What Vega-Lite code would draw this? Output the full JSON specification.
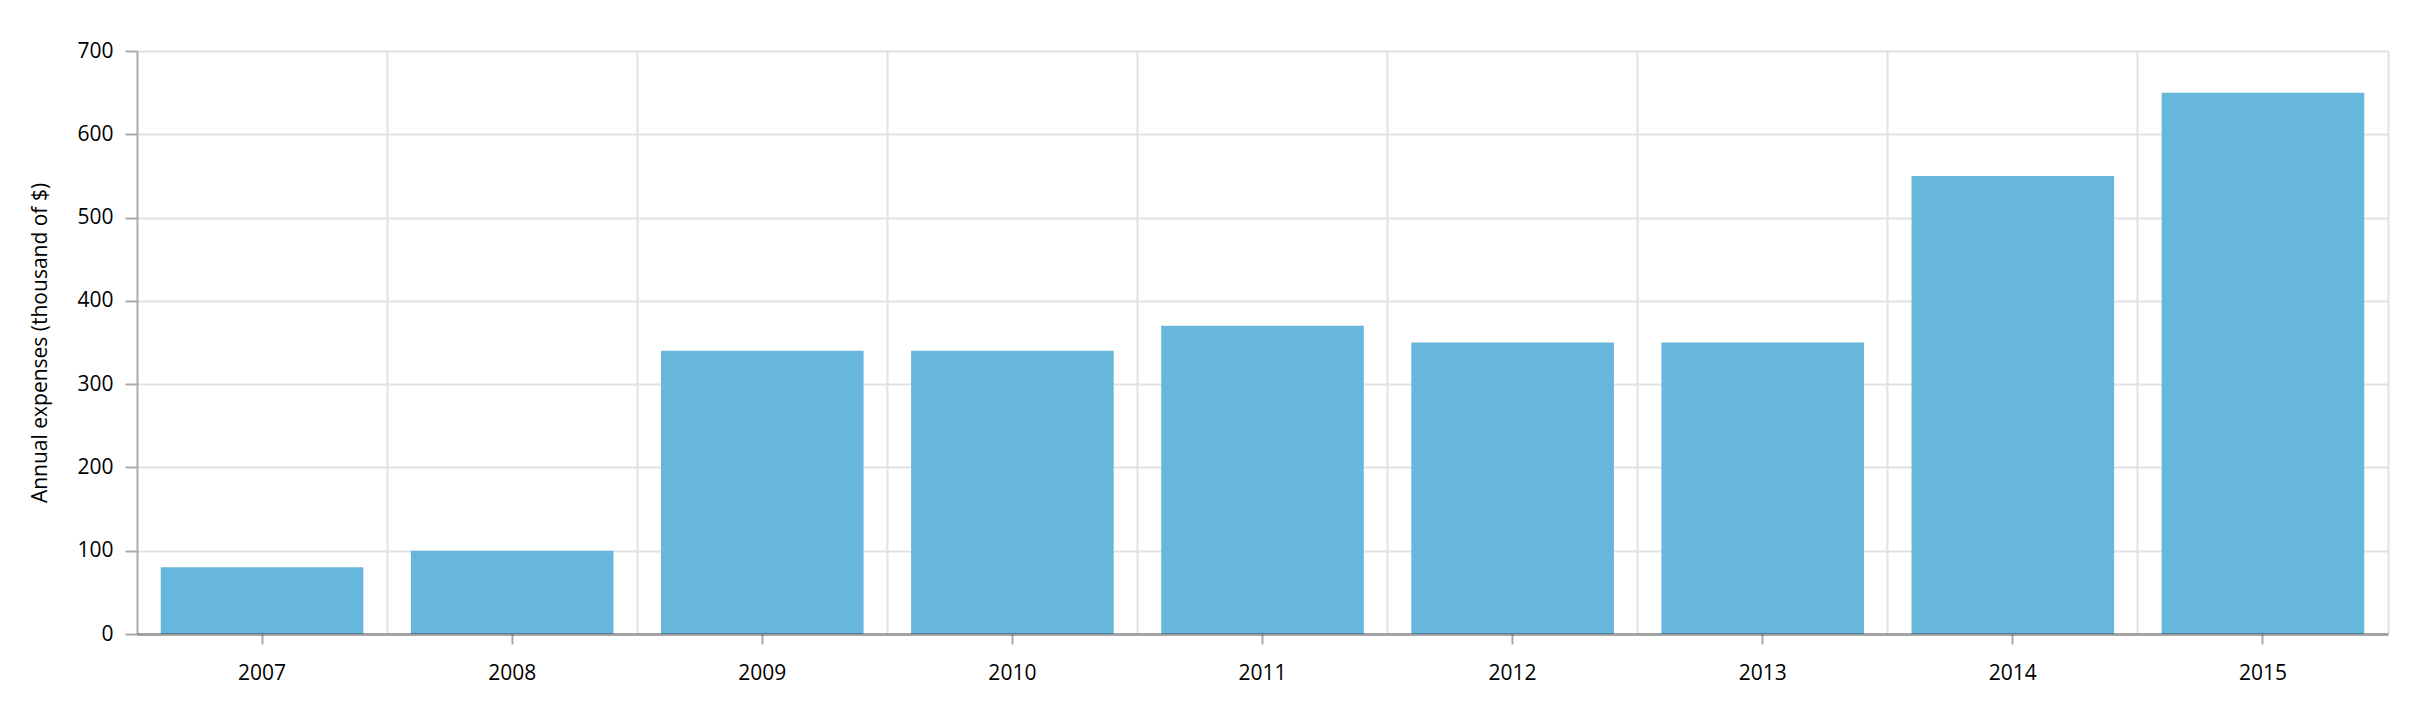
{
  "$schema": "https://vega.github.io/schema/vega-lite/v6.json",
  "width": 2251,
  "height": 583,
  "autosize": {"type": "none"},
  "padding": {"left": 137, "top": 51, "right": 32, "bottom": 67},
  "background": "white",
  "config": {
    "view": {"stroke": null},
    "font": "Open Sans",
    "axis": {"labelFont": "Open Sans", "titleFont": "Open Sans", "labelColor": "#000", "titleColor": "#000"}
  },
  "data": {
    "values": [
      {"year": "2007", "expenses": 80},
      {"year": "2008", "expenses": 100},
      {"year": "2009", "expenses": 340},
      {"year": "2010", "expenses": 340},
      {"year": "2011", "expenses": 370},
      {"year": "2012", "expenses": 350},
      {"year": "2013", "expenses": 350},
      {"year": "2014", "expenses": 550},
      {"year": "2015", "expenses": 650}
    ]
  },
  "resolve": {"axis": {"x": "independent"}},
  "layer": [
    {
      "mark": {"type": "bar", "opacity": 0},
      "encoding": {
        "x": {
          "field": "year", "type": "ordinal",
          "scale": {"paddingInner": 0.19, "paddingOuter": 0.095},
          "axis": {"orient": "top", "title": null, "labels": false, "ticks": false, "domain": false,
                   "grid": true, "gridColor": "#e2e2e2", "gridWidth": 2, "bandPosition": 1.1173, "zindex": 0}
        },
        "y": {
          "field": "expenses", "type": "quantitative",
          "scale": {"domain": [0, 700], "nice": false},
          "axis": {
            "title": "Annual expenses (thousand of $)",
            "titleFontSize": 21, "titleFontWeight": "normal", "titlePadding": 26,
            "values": [0, 100, 200, 300, 400, 500, 600, 700],
            "labelFontSize": 21, "labelPadding": 12,
            "tickSize": 12, "tickWidth": 2, "tickColor": "#aaaaaa",
            "domainColor": "#aaaaaa", "domainWidth": 2,
            "grid": true, "gridColor": "#e2e2e2", "gridWidth": 2
          }
        }
      }
    },
    {
      "mark": {"type": "bar", "color": "#67b6dc"},
      "encoding": {
        "x": {
          "field": "year", "type": "ordinal",
          "axis": {"orient": "bottom", "title": null, "labelAngle": 0, "labelFontSize": 21, "labelPadding": 18,
                   "tickSize": 10, "tickWidth": 2, "tickColor": "#aaaaaa",
                   "domainColor": "#000000", "domainOpacity": 0.3, "domainWidth": 3,
                   "grid": false, "zindex": 1}
        },
        "y": {"field": "expenses", "type": "quantitative"}
      }
    }
  ]
}
